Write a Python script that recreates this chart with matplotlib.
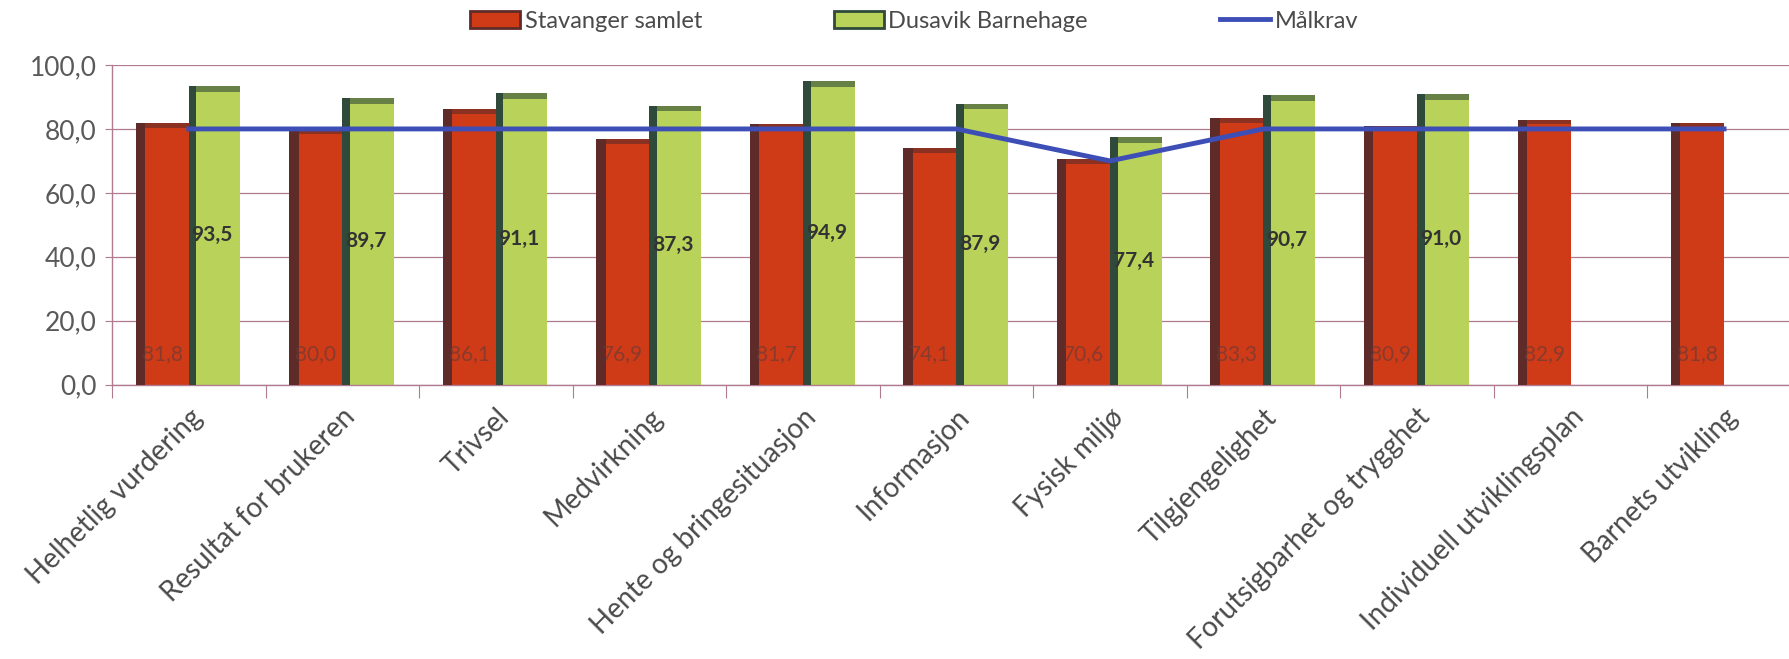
import numpy as np
import matplotlib
matplotlib.use("Agg")
import matplotlib.pyplot as plt
from matplotlib.lines import Line2D
from matplotlib.patches import Patch

plt.rcParams['font.family'] = ['Lato', 'DejaVu Sans']

categories = ["Helhetlig vurdering", "Resultat for brukeren", "Trivsel", "Medvirkning",
              "Hente og bringesituasjon", "Informasjon", "Fysisk miljø", "Tilgjengelighet",
              "Forutsigbarhet og trygghet", "Individuell utviklingsplan", "Barnets utvikling"]
stavanger = [81.8, 80.0, 86.1, 76.9, 81.7, 74.1, 70.6, 83.3, 80.9, 82.9, 81.8]
dusavik = [93.5, 89.7, 91.1, 87.3, 94.9, 87.9, 77.4, 90.7, 91.0, np.nan, np.nan]
malkrav = [80, 80, 80, 80, 80, 80, 70, 80, 80, 80, 80]
yticks = [0, 20, 40, 60, 80, 100]

red = "#cf3a17"
red_dark = "#5e2b28"
green = "#b9d35a"
green_dark = "#2f4a3a"
blue = "#3d4fb6"
grid_c = "#b07a90"
text_c = "#5a5a5a"

fig = plt.figure(figsize=(17.89, 6.59), dpi=100)
ax = fig.add_axes([0.0626, 0.4165, 0.944, 0.4848])

x = np.arange(len(categories))
w = 0.345
xr = x - w / 2
xg = x + w / 2
s_arr = np.array(stavanger)
d_arr = np.array(dusavik)

# bars with a darker left edge and top cap, like the original 3D-ish style
ax.bar(xr, s_arr, width=w, color=red, zorder=2)
ax.bar(xr - w / 2 + 0.03, s_arr, width=0.06, color=red_dark, zorder=3)
ax.bar(xr, 1.5, bottom=s_arr - 1.5, width=w, color=red_dark, alpha=0.6, zorder=3)
ax.bar(xg, d_arr, width=w * 0.95, color=green, zorder=2)
ax.bar(xg - w / 2 + 0.025, d_arr, width=0.05, color=green_dark, zorder=3)
ax.bar(xg, 1.8, bottom=d_arr - 1.8, width=w * 0.95, color=green_dark, alpha=0.6, zorder=3)
ax.plot(x, malkrav, color=blue, lw=3.5, zorder=4)

for xi, v in zip(xr, stavanger):
    ax.text(xi, 9.5, f"{v:.1f}".replace(".", ","), ha="center", va="center",
            fontsize=15, color="#6b3a36", alpha=0.7, zorder=5)
for xi, v in zip(xg, dusavik):
    if np.isnan(v):
        continue
    ax.text(xi - 0.02, v / 2, f"{v:.1f}".replace(".", ","), ha="center", va="center",
            fontsize=15, fontweight="bold", color="#333333", zorder=5)

ax.set_xlim(-0.5, len(categories) - 0.5)
ax.set_ylim(0, 100)
ax.set_yticks(yticks)
ax.set_yticklabels([f"{t:.1f}".replace(".", ",") for t in yticks], fontsize=19, color=text_c)
ax.yaxis.grid(True, color=grid_c, lw=0.9, zorder=0)
ax.set_axisbelow(True)

ax.set_xticks(np.arange(len(categories) + 1) - 0.5, minor=False)
ax.set_xticklabels([])
ax.set_xticks(x, minor=True)
ax.set_xticklabels(categories, minor=True, rotation=45, ha="right", rotation_mode="anchor",
                   fontsize=20, color="#4a4a4a")
ax.tick_params(axis="x", which="minor", length=0, pad=14)
ax.tick_params(axis="x", which="major", length=9, color=grid_c)
ax.tick_params(axis="y", length=5, color=grid_c, pad=6)

for s in ["top", "right"]:
    ax.spines[s].set_visible(False)
for s in ["left", "bottom"]:
    ax.spines[s].set_color(grid_c)
    ax.spines[s].set_linewidth(1)

handles = [Patch(facecolor=red, edgecolor=red_dark, lw=2),
           Patch(facecolor=green, edgecolor=green_dark, lw=2),
           Line2D([0], [0], color=blue, lw=3.5)]
labels = ["Stavanger samlet", "Dusavik Barnehage", "Målkrav"]
fig.legend(handles, labels, loc="center", bbox_to_anchor=(0.511, 0.968), ncol=3, frameon=False,
           fontsize=17, handlelength=2.1, handletextpad=0.2, columnspacing=5.6, labelcolor="#4a4a4a")

fig.savefig("out.png", dpi=100)
